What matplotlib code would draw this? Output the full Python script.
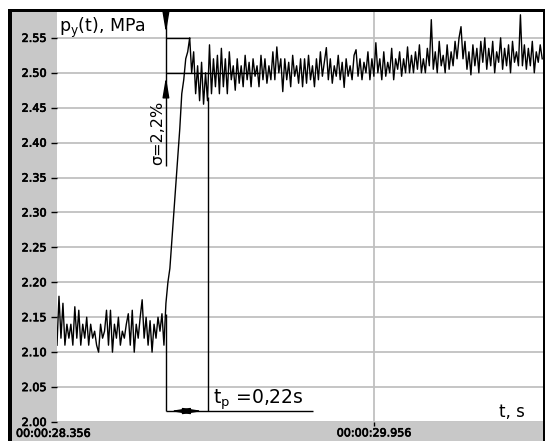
import numpy as np
import matplotlib
matplotlib.use('Agg')
import matplotlib.pyplot as plt
import matplotlib.patheffects as pe
from matplotlib.patches import Rectangle
from matplotlib.transforms import ScaledTranslation

# sampled pressure p_y(t), MPa, one sample every 0.01 s from 00:00:28.356
t0 = 28.356
dt = 0.01
pre_step = [2.11, 2.18, 2.12, 2.17, 2.11, 2.14, 2.12, 2.14, 2.11, 2.165,
            2.12, 2.16, 2.11, 2.14, 2.12, 2.15, 2.11, 2.14, 2.12, 2.13,
            2.11, 2.10, 2.14, 2.12, 2.13, 2.16, 2.11, 2.16, 2.10, 2.14,
            2.12, 2.15, 2.11, 2.13, 2.12, 2.14, 2.155, 2.11, 2.16, 2.10,
            2.14, 2.12, 2.15, 2.175, 2.12, 2.15, 2.11, 2.145, 2.10, 2.14,
            2.12, 2.15, 2.13, 2.155, 2.11]
rise = [2.17, 2.20, 2.22, 2.26, 2.30, 2.34, 2.38, 2.42, 2.47, 2.49, 2.52, 2.53]
settle = [2.55, 2.50, 2.53, 2.47, 2.51, 2.46, 2.515, 2.455, 2.50, 2.46,
          2.54, 2.47, 2.52, 2.48, 2.525, 2.47, 2.535, 2.48, 2.52, 2.47,
          2.53, 2.49, 2.51, 2.475, 2.52, 2.485, 2.51, 2.48, 2.525, 2.49,
          2.515, 2.48, 2.52, 2.495, 2.51, 2.48, 2.525, 2.49, 2.52, 2.485,
          2.51, 2.49, 2.53, 2.49, 2.537, 2.50, 2.52, 2.473, 2.52, 2.49,
          2.515, 2.48, 2.525, 2.495, 2.51, 2.485, 2.52]
steady = [2.48, 2.52, 2.485, 2.525, 2.49, 2.51, 2.48,
          2.52, 2.49, 2.53, 2.495, 2.515, 2.536,
          2.49, 2.52, 2.485, 2.51, 2.495, 2.525, 2.49, 2.515, 2.479, 2.52, 2.495, 2.51, 2.49, 2.525,
          2.533, 2.495, 2.52, 2.49, 2.515, 2.50, 2.53, 2.49, 2.52, 2.495,
          2.543, 2.50, 2.52, 2.49, 2.53, 2.495, 2.515, 2.50, 2.535, 2.49,
          2.52, 2.505, 2.53, 2.495, 2.52, 2.50, 2.537, 2.50, 2.525,
          2.50, 2.53, 2.505, 2.54, 2.50, 2.52, 2.50, 2.535, 2.51,
          2.576,
          2.505, 2.53, 2.50, 2.545, 2.51, 2.525, 2.50, 2.54, 2.505, 2.53, 2.51, 2.545, 2.52,
          2.55, 2.566,
          2.52, 2.545, 2.505, 2.53, 2.497, 2.54, 2.51, 2.535, 2.50, 2.545, 2.515,
          2.55, 2.505, 2.535, 2.51, 2.545, 2.50, 2.53, 2.515, 2.55, 2.505,
          2.535, 2.51, 2.54, 2.50, 2.545, 2.515,
          2.53, 2.51, 2.583,
          2.51, 2.54, 2.505, 2.535, 2.51, 2.545, 2.50, 2.53, 2.515, 2.54, 2.52]

pressure = np.array(pre_step + rise + settle + steady)
time = t0 + dt * np.arange(len(pressure))

y_ticks = [2.00, 2.05, 2.10, 2.15, 2.20, 2.25, 2.30, 2.35, 2.40, 2.45, 2.50, 2.55]
x_tick = 29.956
x_labels = ['00:00:28.356', '00:00:29.956']

# annotation points
t_step = 28.906     # start of the step
t_peak = 29.027     # overshoot maximum
t_resp = 29.118     # end of response time
p_peak = 2.55
p_set = 2.50
p_dim = 2.0157      # level of the t_p dimension line

W, H = 545, 441
fig = plt.figure(figsize=(W / 100, H / 100), dpi=100)
fig.patch.set_facecolor('white')


def frame(x0, y0, x1, y1, color, z):
    fig.add_artist(Rectangle((x0 / W, 1 - y1 / H), (x1 - x0) / W, (y1 - y0) / H,
                             transform=fig.transFigure, facecolor=color,
                             edgecolor='none', zorder=z))


frame(8, 9, 545, 441, 'black', -3)
frame(12, 12, 543, 441, '#c8c8c8', -2)

ax = fig.add_axes([57 / W, 1 - 422 / H, (543 - 57) / W, (422 - 12) / H])
ax.set_facecolor('white')
for s in ax.spines.values():
    s.set_visible(False)

ax.set_xlim(t0, 30.81)
ax.set_ylim(2.0, 2.587)

heavy = [pe.withStroke(linewidth=0.5, foreground='black')]
ax.set_yticks(y_ticks)
ax.set_yticklabels(['%.2f' % v for v in y_ticks], family='DejaVu Sans',
                   fontsize=8.1, path_effects=heavy)
ax.set_xticks([x_tick])
ax.set_xticklabels([x_labels[1]], family='DejaVu Sans', fontsize=8,
                   path_effects=heavy)
ax.tick_params(axis='y', direction='out', length=4, width=1, pad=3.5, colors='black')
ax.tick_params(axis='x', direction='out', length=3, width=1, pad=1.6, colors='black')
ax.grid(True, color='#c0c0c0', lw=1.3)
ax.set_axisbelow(True)

ax.text(t0, 0, x_labels[0], family='DejaVu Sans', fontsize=8, path_effects=heavy,
        ha='left', va='top',
        transform=ax.get_xaxis_transform() + ScaledTranslation(-0.41, -0.068, fig.dpi_scale_trans))

ax.plot(time, pressure, color='black', lw=1.0, zorder=3)

# dimension lines
lk = dict(colors='black', lw=1, zorder=4)
ax.vlines(t_step, 2.367, 2.587, **lk)
ax.vlines(t_step, p_dim, 2.155, **lk)
ax.vlines(t_resp, p_dim, 2.466, **lk)
ax.hlines(p_peak, t_step, t_peak, **lk)
ax.hlines(p_set, t_step, 29.38, **lk)
ax.hlines(p_dim, t_step, 29.648, **lk)

ap = dict(arrowstyle='-|>,head_length=1.2,head_width=0.2', color='black', lw=1,
          shrinkA=0, shrinkB=0)
ax.annotate('', xy=(t_step, 2.557), xytext=(t_step, 2.582), arrowprops=ap, zorder=5)
ax.annotate('', xy=(t_step, 2.494), xytext=(t_step, 2.468), arrowprops=ap, zorder=5)
t_mid = 29.01
ap2 = dict(arrowstyle='-|>,head_length=1.15,head_width=0.18', color='black', lw=1,
           shrinkA=0, shrinkB=0)
ax.annotate('', xy=(28.926, p_dim), xytext=(t_mid, p_dim), arrowprops=ap2, zorder=5)
ax.annotate('', xy=(29.093, p_dim), xytext=(t_mid, p_dim), arrowprops=ap2, zorder=5)

ax.text(28.866, 2.414, 'σ=2,2%', rotation=90, ha='center', va='center',
        fontsize=11.5, family='DejaVu Sans', zorder=5)
ax.text(29.143, 2.0257, r't$_\mathrm{p}$ =0,22s', ha='left', va='baseline',
        fontsize=13.5, family='DejaVu Sans', zorder=5)
ax.text(0.963, 0.012, 't, s', transform=ax.transAxes, ha='right', va='baseline',
        fontsize=12, family='DejaVu Sans')
ax.text(0.005, 0.952, r'p$_\mathrm{y}$(t), MPa', transform=ax.transAxes, ha='left',
        va='baseline', fontsize=12.5, family='DejaVu Sans')

fig.savefig('out.png', dpi=100)
